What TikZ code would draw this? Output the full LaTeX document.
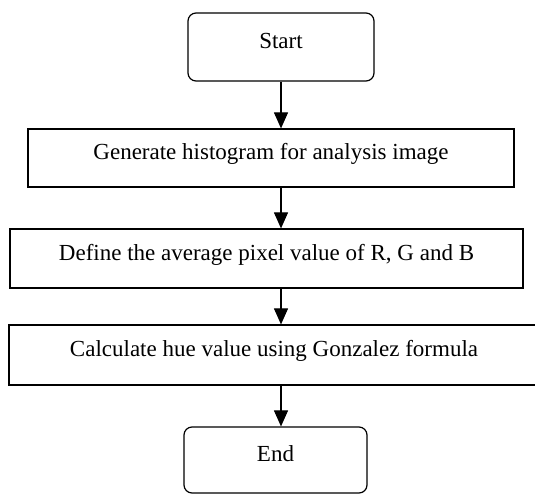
\documentclass[tikz,border=0pt]{standalone}
\usepackage{fontspec}
\setmainfont{Liberation Serif}
\usetikzlibrary{arrows.meta,positioning}

\begin{document}
\begin{tikzpicture}[x=1pt,y=-1pt,
    font=\fontsize{23}{27}\selectfont,
    stepbox/.style={draw,line width=1.2pt,inner sep=0pt,text height=0.72em,text depth=0.38em},
    termbox/.style={stepbox,rounded corners=8pt},
    flow/.style={line width=1.1pt,-{Triangle[width=14pt,length=16pt]}}]

  \clip (0,0) rectangle (535,495);

  \node[termbox,minimum width=186pt,minimum height=68pt] (start) at (281,47) {Start};
  \node[stepbox,minimum width=486pt,minimum height=58pt] (hist) at (271,158) {Generate histogram for analysis image};
  \node[stepbox,minimum width=513pt,minimum height=59pt] (avg) at (266.5,258.5) {Define the average pixel value of R, G and B};
  \node[stepbox,minimum width=530pt,minimum height=60pt] (hue) at (274,355) {Calculate hue value using Gonzalez formula};
  \node[termbox,minimum width=183pt,minimum height=66pt] (end) at (275.5,460) {End};

  \draw[flow] (start.south) -- (start.south |- hist.north);
  \draw[flow] (hist.south -| start.south) -- (avg.north -| start.south);
  \draw[flow] (avg.south -| start.south) -- (hue.north -| start.south);
  \draw[flow] (hue.south -| start.south) -- (end.north -| start.south);

\end{tikzpicture}
\end{document}
